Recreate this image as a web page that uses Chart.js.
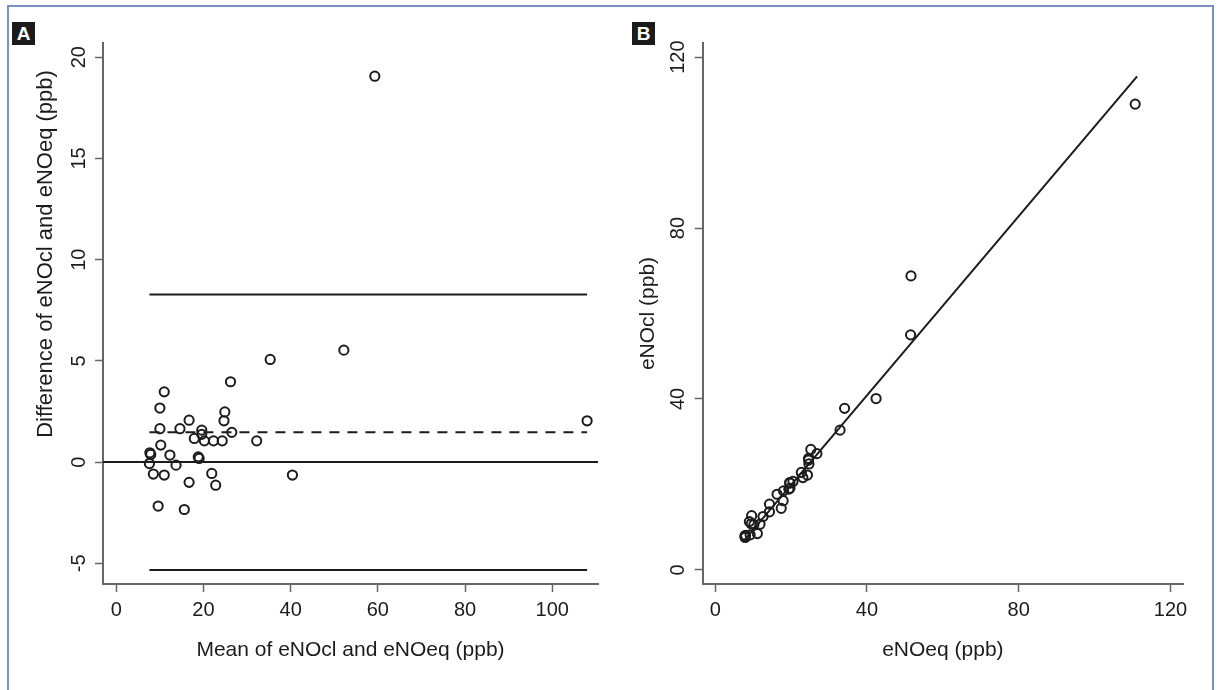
<!DOCTYPE html>
<html>
<head>
<meta charset="utf-8">
<script src="https://cdn.jsdelivr.net/npm/chart.js@4.4.1/dist/chart.umd.min.js"></script>
<style>
  html, body { margin: 0; padding: 0; background: #fff; }
  body { width: 1223px; height: 690px; position: relative; overflow: hidden; font-family: "Liberation Sans", Arial, sans-serif; }
  .frame { position: absolute; left: 7px; top: 5px; width: 1207px; height: 720px; border: 2px solid #7d90c4; box-sizing: border-box; }
  .badge { position: absolute; width: 23px; height: 23px; background: #1b1b1b; color: #fff; font-weight: bold; font-size: 19px; line-height: 23px; text-align: center; }
  canvas { position: absolute; top: 0; }
</style>
</head>
<body>
<div class="frame"></div>
<div style="position:absolute;left:0;top:0;width:611px;height:690px"><canvas id="chartA"></canvas></div>
<div style="position:absolute;left:611px;top:0;width:612px;height:690px"><canvas id="chartB"></canvas></div>
<div class="badge" style="left:12px;top:22px">A</div>
<div class="badge" style="left:632px;top:22px">B</div>
<script>
// Panel A: Bland-Altman
var meanA = [7.6, 7.7, 7.9, 8.5, 9.6, 10.0, 10.0, 10.2, 11.0, 11.0, 12.3, 13.7, 14.6, 15.6, 16.7, 16.7, 17.9, 18.8,
             19.0, 19.6, 19.6, 20.2, 21.9, 22.3, 22.8, 24.3, 24.7, 24.9, 26.2, 26.5, 32.2, 35.3, 40.4, 52.2, 59.3, 108.0];
var diffA = [-0.07, 0.46, 0.38, -0.59, -2.17, 2.67, 1.65, 0.84, 3.47, -0.64, 0.35, -0.15, 1.65, -2.34, 2.07, -1.0, 1.17, 0.26,
             0.18, 1.58, 1.37, 1.05, -0.56, 1.05, -1.14, 1.05, 2.04, 2.48, 3.97, 1.47, 1.05, 5.07, -0.64, 5.53, 19.06, 2.04];
var loaX = [7.6, 108.0];
var meanDiff = 1.47;
var upperLoA = 8.28;
var lowerLoA = -5.33;
var xTicksA = [0, 20, 40, 60, 80, 100];
var yTicksA = [-5, 0, 5, 10, 15, 20];
var xRangeA = [-3.05, 110.5];
var yRangeA = [-6.02, 20.7];

// Panel B: eNOcl vs eNOeq
var eqB = [7.9, 7.8, 8.0, 9.2, 11.1, 9.0, 9.5, 10.2, 9.6, 11.8, 12.6, 14.3, 14.3, 17.4, 16.3, 17.9, 18.0, 19.4,
           19.7, 19.6, 19.7, 20.5, 23.1, 22.7, 24.3, 24.7, 24.6, 24.6, 25.2, 26.8, 32.9, 34.1, 42.4, 51.5, 51.6, 110.7];
var clB = [7.6, 7.9, 8.1, 8.2, 8.5, 11.3, 10.8, 10.6, 12.7, 10.7, 12.5, 13.6, 15.4, 14.4, 17.7, 16.2, 18.5, 18.9,
           19.1, 20.4, 20.3, 20.7, 21.6, 22.8, 22.2, 24.8, 25.7, 26.1, 28.2, 27.2, 32.7, 37.8, 40.1, 55.0, 68.8, 109.0];
var fitEq = [7.8, 111.2];
var fitCl = [7.1, 115.5];
var ticksB = [0, 40, 80, 120];
var rangeB = [-3.3, 123.3];

var ink = '#1c1c1c';
var axisGrey = '#666';
var fam = '"Liberation Sans", Arial, sans-serif';
var tickFont = { family: fam, size: 20 };
var titleFont = { family: fam, size: 21 };

function pts(xs, ys) {
    return xs.map(function (x, i) { return { x: x, y: ys[i] }; });
}

function circles(data) {
    return {
        type: 'scatter',
        data: data,
        pointStyle: 'circle',
        pointRadius: 4.6,
        pointHoverRadius: 4.6,
        borderWidth: 2,
        borderColor: ink,
        backgroundColor: 'rgba(0,0,0,0)',
        order: 0
    };
}

function refLine(data, dash) {
    return {
        type: 'line',
        data: data,
        showLine: true,
        borderColor: ink,
        borderWidth: 2,
        borderDash: dash || [],
        pointRadius: 0,
        fill: false,
        order: 1
    };
}

function axis(range, ticks, title, fixed, tickOpts, titlePad) {
    return {
        type: 'linear',
        min: range[0],
        max: range[1],
        afterBuildTicks: function (s) { s.ticks = ticks.map(function (v) { return { value: v }; }); },
        afterFit: fixed,
        border: { display: true, color: axisGrey, width: 2 },
        grid: { drawOnChartArea: false, drawTicks: true, tickLength: 8, tickColor: axisGrey, tickWidth: 1.5, color: axisGrey },
        ticks: Object.assign({ color: ink, font: tickFont }, tickOpts),
        title: { display: !!title, text: title, color: ink, font: titleFont, padding: titlePad }
    };
}

// y title of panel A sits above the axis centre in the original
var sideTitle = {
    id: 'sideTitle',
    afterDraw: function (chart, args, opts) {
        var ctx = chart.ctx;
        ctx.save();
        ctx.translate(opts.x, opts.y);
        ctx.rotate(-Math.PI / 2);
        ctx.fillStyle = ink;
        ctx.font = opts.size + 'px ' + fam;
        ctx.textAlign = 'center';
        ctx.textBaseline = 'middle';
        ctx.fillText(opts.text, 0, 0);
        ctx.restore();
    }
};

var common = {
    responsive: true,
    maintainAspectRatio: false,
    animation: false,
    events: []
};

new Chart(document.getElementById('chartA'), {
    type: 'scatter',
    plugins: [sideTitle],
    data: {
        datasets: [
            circles(pts(meanA, diffA)),
            refLine(pts(xRangeA, [0, 0])),
            refLine(pts(loaX, [upperLoA, upperLoA])),
            refLine(pts(loaX, [lowerLoA, lowerLoA])),
            refLine(pts(loaX, [meanDiff, meanDiff]), [10, 8])
        ]
    },
    options: Object.assign({}, common, {
        plugins: {
            legend: { display: false }, tooltip: { enabled: false },
            sideTitle: { text: 'Difference of eNOcl and eNOeq (ppb)', x: 46, y: 254, size: 22 }
        },
        layout: { padding: { top: 43, right: 13, bottom: 0, left: 0 } },
        scales: {
            x: axis(xRangeA, xTicksA, 'Mean of eNOcl and eNOeq (ppb)',
                    function (s) { s.height = 106; }, { padding: 6, maxRotation: 0 }, { top: 0, bottom: 27 }),
            y: axis(yRangeA, yTicksA, '',
                    function (s) { s.width = 103; }, { padding: 4, minRotation: 90, maxRotation: 90, crossAlign: 'center' }, 0)
        }
    })
});

new Chart(document.getElementById('chartB'), {
    type: 'scatter',
    data: {
        datasets: [
            circles(pts(eqB, clB)),
            refLine(pts(fitEq, fitCl))
        ]
    },
    options: Object.assign({}, common, {
        plugins: { legend: { display: false }, tooltip: { enabled: false } },
        layout: { padding: { top: 43, right: 40, bottom: 0, left: 0 } },
        scales: {
            x: axis(rangeB, ticksB, 'eNOeq (ppb)',
                    function (s) { s.height = 106; }, { padding: 6, maxRotation: 0 }, { top: 0, bottom: 27 }),
            y: axis(rangeB, ticksB, 'eNOcl (ppb)',
                    function (s) { s.width = 91.7; }, { padding: 0, minRotation: 90, maxRotation: 90, crossAlign: 'center' }, { top: 25, bottom: 0 })
        }
    })
});
</script>
</body>
</html>
